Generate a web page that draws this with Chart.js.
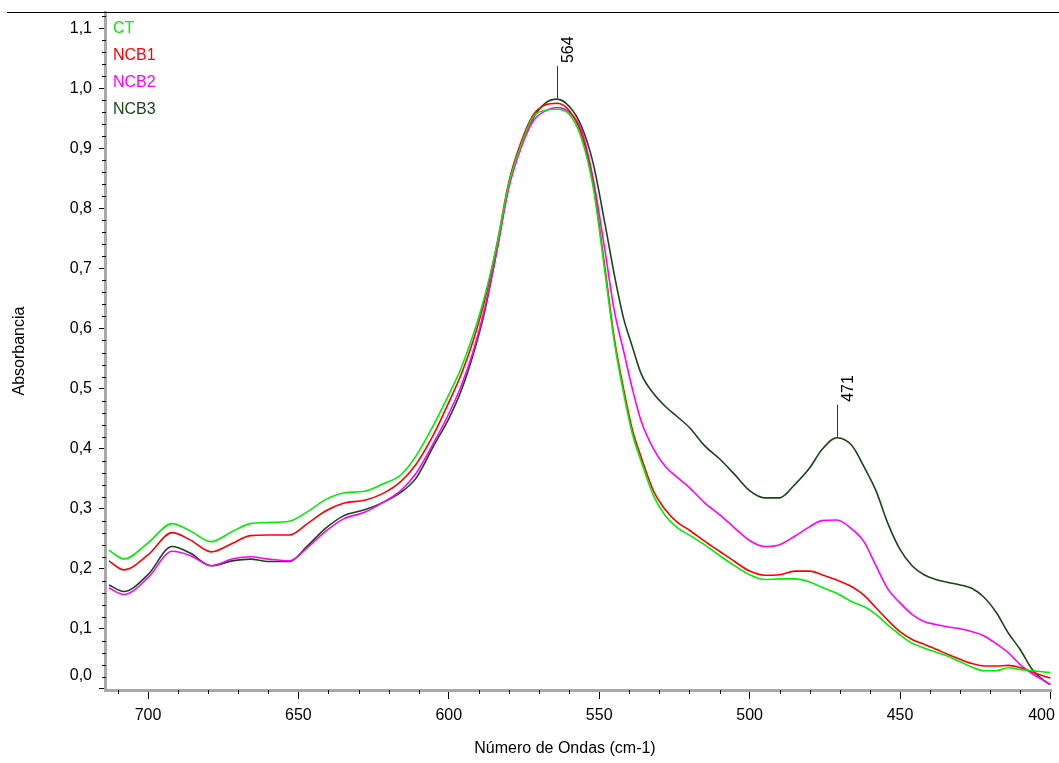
<!DOCTYPE html>
<html>
<head>
<meta charset="utf-8">
<script src="https://cdn.jsdelivr.net/npm/chart.js@4"></script>
<style>
  html, body { margin: 0; padding: 0; background: #fff; }
  #chart { display: block; }
</style>
</head>
<body>
<canvas id="chart" width="1059" height="763"></canvas>
<script>
// ——— DATA ———
const wavenumbers = [713, 708, 700, 692, 686, 679, 672, 666, 660, 653,
    647, 641, 635, 628, 622, 616, 611, 605, 600, 596,
    592, 588, 584, 580, 576, 572, 568, 564, 560, 556,
    552, 548, 545, 542, 539, 536, 532, 528, 524, 520,
    515, 510, 505, 500, 495, 490, 485, 480, 476, 471,
    466, 462, 458, 454, 450, 446, 442, 438, 434, 430,
    426, 422, 418, 414, 410, 406, 402, 400];

const ct = [.231, .216, .243, .275, .263, .245, .262, .275, .277, .279,
    .295, .315, .326, .329, .341, .356, .387, .440, .490, .533,
    .588, .655, .740, .842, .905, .952, .963, .965, .957, .918,
    .835, .690, .578, .495, .425, .378, .322, .288, .268, .256,
    .240, .222, .205, .190, .182, .183, .183, .178, .169, .159,
    .145, .137, .124, .106, .090, .076, .068, .061, .054, .045,
    .036, .030, .030, .035, .032, .030, .028, .027];

const ncb1 = [.213, .198, .223, .260, .248, .228, .242, .255, .256, .256,
    .275, .296, .309, .314, .325, .345, .373, .424, .477, .522,
    .578, .648, .740, .845, .910, .955, .972, .975, .963, .925,
    .840, .697, .584, .502, .432, .385, .330, .298, .277, .264,
    .246, .229, .212, .196, .189, .190, .196, .196, .190, .181,
    .170, .156, .135, .114, .095, .082, .074, .066, .057, .049,
    .042, .038, .038, .039, .035, .028, .021, .018];

const ncb2 = [.168, .157, .185, .229, .222, .205, .216, .220, .216, .213,
    .235, .262, .283, .294, .310, .330, .358, .410, .458, .503,
    .560, .635, .730, .835, .900, .945, .962, .968, .960, .932,
    .849, .727, .630, .565, .500, .445, .400, .370, .352, .335,
    .310, .290, .268, .247, .237, .240, .254, .270, .280, .281,
    .266, .245, .205, .166, .143, .124, .112, .107, .103, .100,
    .095, .088, .075, .060, .040, .025, .013, .007];

const ncb3 = [.173, .162, .190, .237, .226, .205, .213, .216, .212, .212,
    .238, .267, .288, .298, .310, .327, .350, .405, .450, .495,
    .555, .630, .730, .840, .905, .950, .975, .982, .970, .938,
    .875, .772, .690, .619, .570, .524, .492, .470, .453, .435,
    .405, .383, .357, .330, .318, .318, .340, .368, .398, .418,
    .405, .370, .330, .275, .232, .205, .190, .182, .177, .173,
    .167, .152, .127, .093, .065, .032, .013, .007];

const seriesNames = ['CT', 'NCB1', 'NCB2', 'NCB3'];
const seriesColors = ['#00ee00', '#ff0000', '#ff00ff', '#174717'];
const peaks = [564, 471];           // marked on NCB3
const xTicks = [700, 650, 600, 550, 500, 450, 400];
const yTicks = [0, 0.1, 0.2, 0.3, 0.4, 0.5, 0.6, 0.7, 0.8, 0.9, 1.0, 1.1];

const FONT = '"Liberation Sans", Arial, sans-serif';
const fmt = v => v.toFixed(1).replace('.', ',');

// ——— DECORATIONS (legend, titles, minor ticks, peak labels) ———
const decor = {
    id: 'decor',
    afterDraw(chart) {
        const { ctx, chartArea: a, scales: { x, y } } = chart;
        ctx.save();

        // top rule
        ctx.strokeStyle = '#000';
        ctx.lineWidth = 1;
        ctx.beginPath();
        ctx.moveTo(7, 12.5);
        ctx.lineTo(chart.width, 12.5);
        ctx.stroke();

        // minor ticks
        ctx.strokeStyle = '#111';
        ctx.beginPath();
        for (let v = 710; v > 400; v -= 10) {
            if (v % 50 === 0) continue;
            const px = Math.round(x.getPixelForValue(v)) + 0.5;
            ctx.moveTo(px, a.bottom);
            ctx.lineTo(px, a.bottom + 4);
        }
        for (let k = 0; k <= 56; k++) {
            if (k % 5 === 0) continue;
            const py = Math.round(y.getPixelForValue(k * 0.02)) + 0.5;
            ctx.moveTo(a.left - 3, py);
            ctx.lineTo(a.left + 1, py);
        }
        ctx.stroke();

        ctx.font = '16px ' + FONT;

        // the 0,0 label sits raised above the x axis band
        ctx.fillStyle = '#000';
        ctx.textAlign = 'right';
        ctx.textBaseline = 'middle';
        ctx.fillText(fmt(0), a.left - 13, y.getPixelForValue(0) - 13);

        // legend as coloured text
        ctx.textAlign = 'left';
        seriesNames.forEach((n, i) => {
            ctx.fillStyle = seriesColors[i];
            ctx.fillText(n, a.left + 8, a.top + 17 + i * 26.7);
        });

        // axis titles
        ctx.fillStyle = '#000';
        ctx.textAlign = 'center';
        ctx.fillText('Número de Ondas (cm-1)', 565, 749);
        ctx.save();
        ctx.translate(20, (a.top + a.bottom) / 2);
        ctx.rotate(-Math.PI / 2);
        ctx.fillText('Absorbancia', 0, 0);
        ctx.restore();

        // peak marks
        ctx.strokeStyle = '#333';
        peaks.forEach(p => {
            const i = wavenumbers.indexOf(p);
            const px = Math.round(x.getPixelForValue(p)) + 0.5;
            const py = y.getPixelForValue(ncb3[i]);
            ctx.beginPath();
            ctx.moveTo(px, py - 1);
            ctx.lineTo(px, py - 33);
            ctx.stroke();
            ctx.save();
            ctx.translate(px + 11, py - 36);
            ctx.rotate(-Math.PI / 2);
            ctx.textAlign = 'left';
            ctx.fillStyle = '#000';
            ctx.fillText(String(p), 0, 0);
            ctx.restore();
        });

        ctx.restore();
    }
};

// ——— CHART ———
const series = [ct, ncb1, ncb2, ncb3];
new Chart(document.getElementById('chart'), {
    type: 'line',
    data: {
        datasets: series.map((vals, i) => ({
            label: seriesNames[i],
            data: wavenumbers.map((w, j) => ({ x: w, y: vals[j] })),
            borderColor: seriesColors[i],
            borderWidth: 1.6,
            pointRadius: 0,
            fill: false,
            cubicInterpolationMode: 'monotone'
        }))
    },
    options: {
        responsive: false,
        animation: false,
        devicePixelRatio: 1,
        layout: { padding: { top: 12, right: 8, left: 0, bottom: 0 } },
        plugins: { legend: { display: false }, tooltip: { enabled: false } },
        scales: {
            x: {
                type: 'linear',
                reverse: true,
                min: 399.8,
                max: 714.3,
                afterBuildTicks: s => { s.ticks = xTicks.map(v => ({ value: v })); },
                afterFit: s => { s.height = 73; s.paddingLeft = 0; s.paddingRight = 0; },
                border: { color: '#a8a8a8', width: 3 },
                grid: { drawOnChartArea: false, tickLength: 9, color: '#000' },
                ticks: {
                    padding: 7,
                    color: '#000',
                    font: { family: FONT, size: 16 },
                    maxRotation: 0,
                    callback: v => v === 400 ? '400\u2007\u2007' : String(v)
                }
            },
            y: {
                min: -0.002,
                max: 1.127,
                afterBuildTicks: s => { s.ticks = yTicks.map(v => ({ value: v })); },
                afterFit: s => { s.width = 105; s.paddingTop = 0; s.paddingBottom = 0; },
                border: { color: '#a8a8a8', width: 3 },
                grid: { drawOnChartArea: false, tickLength: 6, color: '#000' },
                ticks: {
                    padding: 7,
                    color: '#000',
                    font: { family: FONT, size: 16 },
                    callback: v => v === 0 ? '' : fmt(v)
                }
            }
        }
    },
    plugins: [decor]
});
</script>
</body>
</html>
